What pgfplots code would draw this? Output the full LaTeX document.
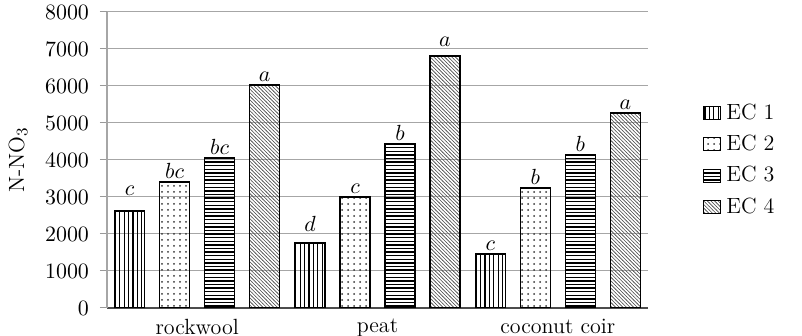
\documentclass[border=0pt]{standalone}
\usepackage{pgfplots}
\pgfplotsset{compat=1.18}
\usetikzlibrary{patterns}
\pgfdeclarepatternformonly{vdense}{\pgfqpoint{-1pt}{-1pt}}{\pgfqpoint{1.5pt}{3.2pt}}{\pgfqpoint{2.2pt}{2.2pt}}{%
  \pgfsetlinewidth{0.55pt}%
  \pgfpathmoveto{\pgfqpoint{0.5pt}{-0.1pt}}\pgfpathlineto{\pgfqpoint{0.5pt}{2.3pt}}\pgfusepath{stroke}}
\pgfdeclarepatternformonly{hdense}{\pgfqpoint{-1pt}{-1pt}}{\pgfqpoint{3pt}{1.5pt}}{\pgfqpoint{1.8pt}{1.8pt}}{%
  \pgfsetlinewidth{0.7pt}%
  \pgfpathmoveto{\pgfqpoint{-0.1pt}{0.5pt}}\pgfpathlineto{\pgfqpoint{1.9pt}{0.5pt}}\pgfusepath{stroke}}
\pgfdeclarepatternformonly{nwdense}{\pgfqpoint{-1pt}{-1pt}}{\pgfqpoint{3pt}{3pt}}{\pgfqpoint{1.8pt}{1.8pt}}{%
  \pgfsetlinewidth{0.3pt}%
  \pgfpathmoveto{\pgfqpoint{-0.1pt}{1.9pt}}\pgfpathlineto{\pgfqpoint{1.9pt}{-0.1pt}}\pgfusepath{stroke}}
\begin{document}
\begin{tikzpicture}[font=\fontsize{11}{13}\selectfont]
\begin{axis}[
  name=main,
  scale only axis,
  width=270.5pt, height=148pt,
  ybar=7.5pt, bar width=15pt,
  xmin=-0.5, xmax=2.5,
  ymin=0, ymax=8000,
  ytick={0,1000,...,8000},
  xtick={0,1,2},
  xticklabels={rockwool,peat,coconut coir},
  x tick style={draw=none},
  y tick style={gray!80, line width=0.5pt},
  tick align=outside,
  major tick length=3.5pt,
  axis x line*=bottom,
  axis y line*=left,
  x axis line style={black!70, line width=0.7pt, -},
  y axis line style={gray!70, line width=0.7pt, -},
  ymajorgrids,
  grid style={gray!70, line width=0.5pt},
  scaled y ticks=false,
  yticklabel style={/pgf/number format/1000 sep={}, xshift=-2pt},
  xticklabel style={yshift=1.5pt},
  ylabel={N-NO$_3$},
  ylabel style={at={(axis description cs:0,0.5)}, anchor=center, yshift=44.5pt},
  point meta=explicit symbolic,
  nodes near coords={$\pgfplotspointmeta$},
  nodes near coords style={inner sep=1.5pt},
  every axis plot/.append style={draw=black, line width=0.8pt},
  legend style={at={(1.09,0.5)}, anchor=west, draw=none, fill=none,
    row sep=1.5pt, nodes={inner sep=2.5pt}},
  legend cell align=left,
  legend image code/.code={\draw[#1, line width=0.6pt] (0cm,-0.115cm) rectangle (0.3cm,0.115cm);},
]
\addplot[pattern=vdense] coordinates {(0,2620) [\raisebox{6pt}{$c$}] (1,1750) [\raisebox{4pt}{$d$}] (2,1460) [c]};
\addplot[pattern=dots, pattern color=black!80] coordinates {(0,3400) [bc] (1,3000) [c] (2,3240) [b]};
\addplot[pattern=hdense] coordinates {(0,4050) [bc] (1,4430) [b] (2,4130) [b]};
\addplot[pattern=nwdense, pattern color=black!70] coordinates {(0,6030) [a] (1,6810) [\raisebox{3pt}{$a$}] (2,5270) [a]};
\legend{EC 1, EC 2, EC 3, EC 4}
\end{axis}
\pgfresetboundingbox
\path ([xshift=-53.5pt,yshift=-14pt]main.south west) rectangle ([xshift=77pt,yshift=6pt]main.north east);
\end{tikzpicture}
\end{document}
